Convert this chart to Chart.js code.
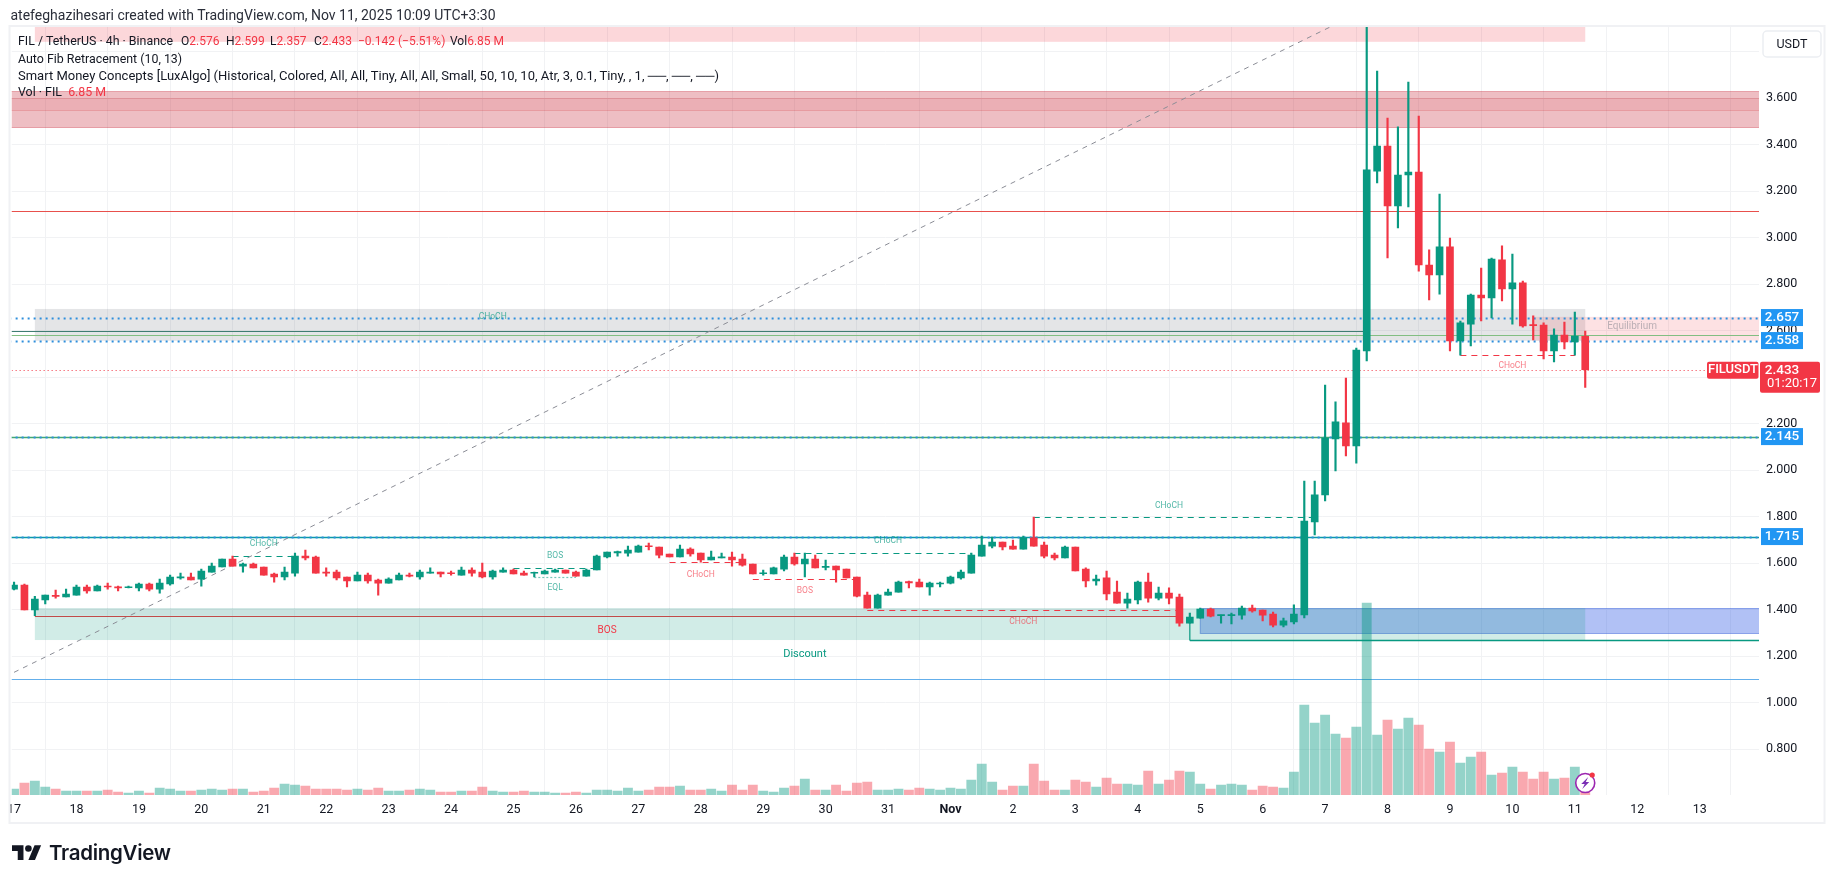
<!DOCTYPE html>
<html><head><meta charset="utf-8">
<script src="https://cdn.jsdelivr.net/npm/chart.js@4/dist/chart.umd.min.js"></script>
<style>
html,body{margin:0;padding:0;background:#fff;overflow:hidden}
#wrap{position:relative;width:1835px;height:883px}
canvas{position:absolute;left:0;top:0}
.t{position:absolute;white-space:pre;font-family:Roboto,sans-serif;font-size:12.4px;line-height:16px;color:#131722}
.v{font-size:12px}
.r{color:#f23645}
</style></head><body>
<div id="wrap"><canvas id="c" width="1835" height="883"></canvas>
<div class="t" style="left:10.5px;top:7px;font-size:14px;color:#2a2e39">atefeghazihesari created with TradingView.com, Nov 11, 2025 10:09 UTC+3:30</div>
<div class="t" style="left:18px;top:33px">FIL / TetherUS · 4h · Binance</div>
<div class="t v" style="left:181px;top:33px">O<span class="r">2.576</span></div>
<div class="t v" style="left:226px;top:33px">H<span class="r">2.599</span></div>
<div class="t v" style="left:270px;top:33px">L<span class="r">2.357</span></div>
<div class="t v" style="left:314px;top:33px">C<span class="r">2.433</span></div>
<div class="t v r" style="left:358px;top:33px">−0.142 (−5.51%)</div>
<div class="t v" style="left:450px;top:33px">Vol<span class="r">6.85 M</span></div>
<div class="t" style="left:18px;top:51px">Auto Fib Retracement (10, 13)</div>
<div class="t" style="left:18px;top:68px;font-size:13px">Smart Money Concepts [LuxAlgo] (Historical, Colored, All, All, Tiny, All, All, Small, 50, 10, 10, Atr, 3, 0.1, Tiny, , 1, ──, ──, ──)</div>
<div class="t" style="left:18px;top:84px">Vol · FIL  <span class="r">6.85 M</span></div>
<div class="t" style="left:49px;top:838px;font-family:Inter,sans-serif;font-size:20.5px;line-height:30px;font-weight:600;letter-spacing:-.3px;color:#131722">TradingView</div>
</div>
<script>
const dayLabels=['17','18','19','20','21','22','23','24','25','26','27','28','29','30','31','Nov','2','3','4','5','6','7','8','9','10','11','12','13'];
const priceTicks=[3.8,3.6,3.4,3.2,3.0,2.8,2.6,2.4,2.2,2.0,1.8,1.6,1.4,1.2,1.0,0.8];
const opens=[1.489,1.506,1.399,1.442,1.462,1.455,1.463,1.498,1.481,1.502,
1.498,1.495,1.494,1.511,1.489,1.511,1.537,1.541,1.532,1.562,
1.584,1.618,1.588,1.597,1.584,1.554,1.541,1.558,1.631,1.627,
1.562,1.562,1.541,1.524,1.549,1.528,1.515,1.528,1.549,1.541,
1.558,1.562,1.559,1.549,1.571,1.562,1.541,1.562,1.571,1.558,
1.557,1.554,1.562,1.571,1.562,1.545,1.571,1.627,1.645,1.644,
1.648,1.674,1.670,1.640,1.627,1.661,1.644,1.614,1.623,1.627,
1.618,1.597,1.555,1.554,1.575,1.627,1.597,1.618,1.582,1.588,
1.575,1.541,1.463,1.407,1.463,1.476,1.521,1.519,1.498,1.511,
1.515,1.537,1.558,1.631,1.674,1.691,1.674,1.661,1.709,1.678,
1.635,1.623,1.670,1.575,1.524,1.537,1.476,1.429,1.442,1.519,
1.450,1.472,1.455,1.343,1.364,1.403,1.375,1.375,1.377,1.407,
1.399,1.382,1.334,1.348,1.378,1.778,1.894,2.135,2.204,2.105,
2.513,3.287,3.395,3.137,3.270,3.283,2.883,2.840,2.961,2.556,
2.629,2.754,2.741,2.905,2.780,2.806,2.624,2.625,2.513,2.582,
2.552,2.576];
const highs=[1.519,1.511,1.458,1.463,1.485,1.489,1.506,1.506,1.506,1.515,
1.502,1.502,1.515,1.515,1.532,1.549,1.558,1.558,1.575,1.601,
1.618,1.631,1.601,1.601,1.584,1.558,1.584,1.644,1.657,1.631,
1.580,1.571,1.541,1.562,1.558,1.532,1.537,1.558,1.558,1.571,
1.580,1.562,1.567,1.584,1.580,1.601,1.571,1.580,1.575,1.567,
1.562,1.571,1.575,1.571,1.567,1.575,1.635,1.648,1.653,1.674,
1.678,1.687,1.670,1.640,1.678,1.666,1.644,1.653,1.644,1.648,
1.640,1.597,1.571,1.584,1.635,1.644,1.644,1.635,1.614,1.588,
1.575,1.541,1.476,1.468,1.489,1.524,1.524,1.532,1.519,1.519,
1.545,1.571,1.644,1.717,1.713,1.691,1.700,1.717,1.799,1.691,
1.644,1.674,1.670,1.580,1.549,1.567,1.524,1.472,1.524,1.558,
1.498,1.494,1.468,1.386,1.407,1.407,1.377,1.386,1.416,1.420,
1.399,1.390,1.364,1.421,1.954,1.954,2.367,2.294,2.397,2.526,
3.950,3.717,3.515,3.477,3.670,3.524,2.948,3.188,2.999,2.642,
2.758,2.870,2.913,2.965,2.930,2.814,2.664,2.634,2.608,2.638,
2.681,2.599];
const lows=[1.485,1.399,1.375,1.425,1.450,1.455,1.463,1.472,1.481,1.489,
1.481,1.494,1.481,1.481,1.472,1.506,1.532,1.528,1.502,1.562,
1.584,1.588,1.562,1.580,1.549,1.519,1.528,1.545,1.614,1.558,
1.545,1.528,1.498,1.524,1.515,1.463,1.515,1.528,1.541,1.532,
1.558,1.541,1.549,1.549,1.545,1.537,1.532,1.562,1.554,1.549,
1.541,1.554,1.562,1.558,1.545,1.545,1.571,1.623,1.631,1.631,
1.648,1.657,1.623,1.627,1.627,1.631,1.605,1.614,1.623,1.588,
1.588,1.554,1.549,1.554,1.567,1.592,1.541,1.580,1.571,1.519,
1.537,1.455,1.407,1.407,1.463,1.476,1.494,1.498,1.463,1.498,
1.511,1.532,1.558,1.631,1.666,1.657,1.661,1.661,1.674,1.623,
1.614,1.623,1.567,1.498,1.506,1.442,1.429,1.407,1.425,1.433,
1.442,1.425,1.330,1.343,1.364,1.369,1.343,1.339,1.360,1.390,
1.352,1.326,1.326,1.339,1.365,1.722,1.868,1.997,2.062,2.031,
2.470,3.236,2.913,3.042,3.133,2.857,2.733,2.758,2.513,2.495,
2.535,2.642,2.655,2.728,2.629,2.616,2.561,2.479,2.466,2.522,
2.495,2.357];
const closes=[1.506,1.399,1.446,1.463,1.458,1.468,1.498,1.481,1.502,1.498,
1.494,1.498,1.511,1.489,1.515,1.541,1.541,1.528,1.567,1.588,
1.618,1.588,1.597,1.580,1.549,1.541,1.562,1.631,1.623,1.558,
1.558,1.537,1.524,1.549,1.524,1.515,1.532,1.549,1.545,1.562,
1.562,1.554,1.555,1.571,1.558,1.541,1.567,1.571,1.554,1.549,
1.559,1.567,1.571,1.558,1.545,1.571,1.631,1.648,1.650,1.657,
1.674,1.671,1.635,1.627,1.661,1.640,1.614,1.627,1.627,1.614,
1.592,1.554,1.559,1.580,1.627,1.597,1.618,1.580,1.587,1.571,
1.537,1.459,1.407,1.463,1.476,1.519,1.516,1.498,1.515,1.515,
1.541,1.562,1.635,1.678,1.691,1.670,1.661,1.709,1.674,1.631,
1.623,1.670,1.567,1.524,1.532,1.468,1.429,1.446,1.519,1.450,
1.472,1.450,1.343,1.369,1.403,1.373,1.377,1.377,1.407,1.395,
1.377,1.334,1.352,1.382,1.782,1.894,2.139,2.208,2.105,2.517,
3.292,3.395,3.137,3.270,3.283,2.883,2.840,2.961,2.556,2.634,
2.754,2.741,2.909,2.780,2.806,2.621,2.622,2.513,2.582,2.552,
2.577,2.433];
const volumes=[13.7,27.4,31.9,18.2,13.7,9.1,9.1,9.1,9.1,11.4,
6.8,4.6,9.1,4.6,16,13.7,9.1,9.1,11.4,13.7,
11.4,13.7,13.7,6.8,9.1,16,25,22.8,20.5,13.7,
13.7,13.7,11.4,13.7,11.4,16,9.1,9.1,11.4,13.7,
11.4,6.8,6.8,9.1,9.1,18.2,9.1,6.8,6.8,9.1,
6.8,6.8,4.6,4.6,6.8,4.6,11.4,11.4,9.1,16,
9.1,11.4,18.2,18.2,20.5,11.4,11.4,13.7,9.1,22.8,
11.4,22.8,9.1,6.8,16,20.5,36.5,11.4,11.4,22.8,
9.1,27.4,29.6,11.4,11.4,13.7,11.4,16,13.7,11.4,
16,13.7,34.2,70.7,29.6,11.4,20.5,20.5,70.7,31.9,
11.4,11.4,34.2,29.6,18.2,38.8,25,25,22.8,54.7,
25,34.2,54.7,52.4,25,13.7,22.8,25,22.8,11.4,
20.5,18.2,16,52.4,205.2,164.2,182.4,139,130,155,
437.8,136.8,171,150.5,175.6,159.6,104.9,98,120.8,73,
86.6,98,45.6,50.2,63.8,52.4,36.5,52.4,36.5,38.8,
63.8,6.85];
const fibLevels=[2.657,2.558,2.145,1.715];
const lastPrice=2.433;
const resistanceLine=3.114, fibLineA=2.597, fibLineB=2.581, supportLine=1.101;
const premiumZone=[2,151,3.96,3.843];
const supplyZone=[-1,170,3.630,3.4735];
const supplyInner=[-1,170,3.600,3.547];
const equilibriumGrey=[2,151,2.694,2.557];
const equilibriumZone=[146,170,2.660,2.558];
const discountZone=[2,151,1.407,1.270];
const discountStrip=[2,112,1.407,1.375];
const demandBlock=[114,170,1.406,1.298];
const greenBreaks=[[21,27,1.630],[48,56,1.578],[75,92,1.643],[98,125,1.797]];
const redBreaks=[[63,70,1.604],[71,81,1.531],[82,112,1.397],[139,150,2.495]];
const eqlSegment=[50,54,1.541];
const bosSegment=[2,112,1.375];
const strongLow=[113,170,1.268,1.343];
const fibTrend=[0,1.131,128,3.94];
const greenNotes=[[24,1.684,'CHoCH'],[52,1.634,'BOS'],[52,1.496,'EQL'],[84,1.698,'CHoCH'],[111,1.849,'CHoCH'],[46,2.662,'CHoCH']];
const redNotes=[[66,1.552,'CHoCH'],[76,1.483,'BOS'],[97,1.346,'CHoCH'],[144,2.447,'CHoCH']];
const up='#089981',down='#f23645',FONT='Roboto, sans-serif';
const idx=opens.map((_,i)=>i);
const dirColor=idx.map(i=>closes[i]>=opens[i]?up:down);
const volColor=idx.map(i=>closes[i]>=opens[i]?'rgba(8,153,129,.43)':'rgba(242,54,69,.43)');
const overlay={id:'overlay',
 beforeDatasetsDraw(ch){
  const {ctx,chartArea:a,scales:{x,y}}=ch;
  const X=v=>x.getPixelForValue(v),Y=v=>y.getPixelForValue(v);
  ctx.save();ctx.beginPath();ctx.rect(a.left,a.top,a.width,a.height);ctx.clip();
  const band=(z,f,s)=>{const l=X(z[0]),r=X(z[1]),t=Y(z[2]),b=Y(z[3]);ctx.fillStyle=f;ctx.fillRect(l,t,r-l,b-t);
    if(s){ctx.strokeStyle=s;ctx.lineWidth=1;ctx.strokeRect(l,Math.round(t)+.5,r-l,Math.round(b-t));}};
  const hl=(x0,x1,p,c,w,d)=>{ctx.strokeStyle=c;ctx.lineWidth=w;ctx.setLineDash(d||[]);ctx.beginPath();const yy=Math.round(Y(p))+.5;ctx.moveTo(X(x0),yy);ctx.lineTo(X(x1),yy);ctx.stroke();ctx.setLineDash([]);};
  band(premiumZone,'rgba(242,54,69,.2)');
  band(supplyZone,'rgba(200,40,55,.3)','rgba(200,40,55,.3)');
  band(supplyInner,'rgba(220,50,60,.1)','rgba(210,50,60,.2)');
  hl(-1,170,resistanceLine,'#e8504c',1.2);
  band(equilibriumGrey,'rgba(120,123,134,.2)');
  band(equilibriumZone,'rgba(242,54,69,.15)');
  band(demandBlock,'rgba(60,100,230,.4)','rgba(60,100,220,.5)');
  band(discountZone,'rgba(8,153,129,.19)');
  band(discountStrip,'rgba(120,123,134,.08)');
  hl(-1,130,fibLineA,'#3f7d72',1.2);
  hl(-1,170,fibLineB,'#82be82',1.2);
  hl(-1,170,fibLevels[2],'#43a96f',1.4);
  hl(-1,170,fibLevels[3],'#0a9aa5',1.4);
  hl(-1,170,supportLine,'#64afeb',1.2);
  fibLevels.forEach(p=>hl(-1,170,p,'#2f8fdc',2,[2,4]));
  hl(-1,170,lastPrice,'#f23645',1,[1,3]);
  greenBreaks.forEach(s=>hl(s[0],s[1],s[2],up,1.2,[6,5]));
  redBreaks.forEach(s=>hl(s[0],s[1],s[2],down,1.2,[6,5]));
  hl(eqlSegment[0],eqlSegment[1],eqlSegment[2],'rgba(8,153,129,.55)',1.2,[2,2]);
  hl(bosSegment[0],bosSegment[1],bosSegment[2],'#c24a4a',1.2);
  hl(strongLow[0],strongLow[1],strongLow[2],up,1.4);
  ctx.strokeStyle=up;ctx.lineWidth=1.2;ctx.beginPath();ctx.moveTo(X(strongLow[0]),Y(strongLow[2]));ctx.lineTo(X(strongLow[0]),Y(strongLow[3]));ctx.stroke();
  ctx.strokeStyle='#8b8d96';ctx.lineWidth=1;ctx.setLineDash([5,5]);ctx.beginPath();ctx.moveTo(X(fibTrend[0]),Y(fibTrend[1]));ctx.lineTo(X(fibTrend[2]),Y(fibTrend[3]));ctx.stroke();ctx.setLineDash([]);
  ctx.textAlign='center';ctx.textBaseline='middle';ctx.font='8.5px '+FONT;
  ctx.fillStyle='rgba(8,153,129,.7)';greenNotes.forEach(n=>ctx.fillText(n[2],X(n[0]),Y(n[1])));
  ctx.fillStyle='rgba(242,54,69,.65)';redNotes.forEach(n=>ctx.fillText(n[2],X(n[0]),Y(n[1])));
  ctx.font='10px '+FONT;ctx.fillStyle=down;ctx.fillText('BOS',X(57),Y(1.310));
  ctx.font='11px '+FONT;ctx.fillStyle=up;ctx.fillText('Discount',X(76),Y(1.207));
  ctx.font='10px '+FONT;ctx.fillStyle='rgba(120,123,134,.5)';ctx.fillText('Equilibrium',X(155.5),Y(2.617));
  ctx.restore();
 },
 afterDraw(ch){
  const {ctx,chartArea:a,scales:{x,y}}=ch;
  const Y=v=>y.getPixelForValue(v),X=v=>x.getPixelForValue(v);
  ctx.save();
  ctx.fillStyle='#fff';ctx.fillRect(0,20,9,810);
  ctx.strokeStyle='#f0f1f4';ctx.lineWidth=2;ctx.strokeRect(9.5,26,1815,797);
  ctx.textBaseline='middle';
  ctx.font='500 13.5px '+FONT;ctx.textAlign='center';
  fibLevels.forEach(p=>{const c=Y(p);ctx.fillStyle='#2196f3';ctx.fillRect(1761,c-8.5,42,17);ctx.fillStyle='#fff';ctx.fillText(p.toFixed(3),1782,c+.5);});
  const c=Y(lastPrice);
  ctx.fillStyle=down;ctx.beginPath();ctx.roundRect(1760,c-8,60,31,2);ctx.fill();
  ctx.beginPath();ctx.roundRect(1707,c-8,51.5,17,2);ctx.fill();
  ctx.fillStyle='#fff';ctx.fillText(lastPrice.toFixed(3),1782,c+.5);ctx.font='500 13px '+FONT;ctx.fillText('FILUSDT',1733,c+.5);
  ctx.font='13px '+FONT;ctx.textAlign='left';ctx.fillText('01:20:17',1767,c+14.5);
  ctx.fillStyle='#fff';ctx.strokeStyle='#eceef2';ctx.lineWidth=1.5;ctx.beginPath();ctx.roundRect(1763,31,58,26,4);ctx.fill();ctx.stroke();
  ctx.fillStyle='#131722';ctx.font='12.5px '+FONT;ctx.textAlign='center';ctx.fillText('USDT',1792,44.5);
  const bx=X(151),by=783;
  ctx.strokeStyle='#9c27b0';ctx.lineWidth=1.6;ctx.fillStyle='#fff';ctx.beginPath();ctx.arc(bx,by,9.5,0,7);ctx.fill();ctx.stroke();
  ctx.fillStyle='#7b2fb5';ctx.beginPath();ctx.moveTo(bx+3,by-6);ctx.lineTo(bx-4,by+1);ctx.lineTo(bx-.5,by+1);ctx.lineTo(bx-3,by+6);ctx.lineTo(bx+4,by-1);ctx.lineTo(bx+.5,by-1);ctx.closePath();ctx.fill();
  ctx.fillStyle='#f23645';ctx.beginPath();ctx.arc(bx+7,by-8,2.6,0,7);ctx.fill();
  ctx.translate(12,842);ctx.scale(.82,.82);ctx.fillStyle='#131722';
  ctx.fill(new Path2D('M14 22H7V11H0V4h14v18z'));ctx.beginPath();ctx.arc(20,8,4,0,7);ctx.fill();
  ctx.fill(new Path2D('M28 22h-8l7.5-18h8L28 22z'));
  ctx.restore();
 }};
new Chart(document.getElementById('c'),{
 type:'bar',
 data:{datasets:[
  {data:idx.map(i=>({x:i,y:volumes[i]})),yAxisID:'v',backgroundColor:volColor,barThickness:9.2,grouped:false,order:3},
  {data:idx.map(i=>({x:i,y:[lows[i],highs[i]]})),yAxisID:'y',backgroundColor:dirColor,barThickness:1.5,grouped:false,order:2},
  {data:idx.map(i=>({x:i,y:[opens[i],closes[i]]})),yAxisID:'y',backgroundColor:dirColor,barThickness:7,grouped:false,order:1,minBarLength:1}
 ]},
 options:{responsive:false,animation:false,devicePixelRatio:1,
  layout:{padding:{left:11,top:27,right:0,bottom:0}},
  plugins:{legend:{display:false},tooltip:{enabled:false}},
  scales:{
   x:{type:'linear',min:-0.22,max:167.7,offset:false,border:{display:false},
    grid:{color:'#f1f2f4',lineWidth:1,drawTicks:false},
    afterBuildTicks:s=>{s.ticks=dayLabels.map((_,k)=>({value:k*6}));},
    afterFit:s=>{s.height=88;},
    ticks:{autoSkip:false,maxRotation:0,padding:7,color:'#131722',font:c=>({family:'Roboto',size:12.5,weight:c.tick&&dayLabels[Math.round(c.tick.value/6)]==='Nov'?'700':'400'}),
     callback:v=>dayLabels[Math.round(v/6)]}},
   y:{type:'linear',position:'right',min:0.6034,max:3.9067,border:{display:false},
    grid:{color:'#f1f2f4',lineWidth:1,drawTicks:false},
    afterBuildTicks:s=>{s.ticks=priceTicks.map(v=>({value:v}));},
    afterFit:s=>{s.width=76;},
    ticks:{padding:7,color:'#131722',font:{family:'Roboto',size:12.5},callback:v=>v.toFixed(3)}},
   v:{type:'linear',display:false,min:0,max:1751}
  }},
 plugins:[overlay]
});
</script></body></html>
